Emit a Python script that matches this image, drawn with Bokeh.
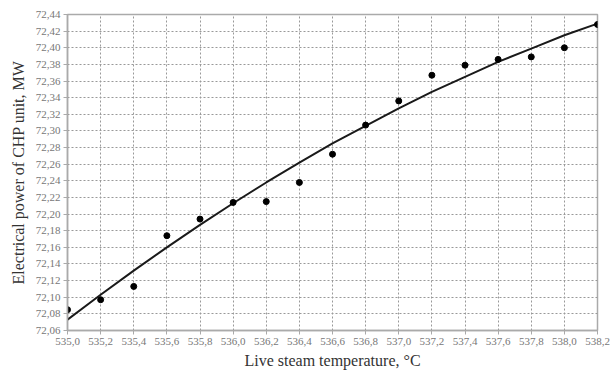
from bokeh.plotting import figure
from bokeh.models import Range1d, FixedTicker
from bokeh.embed import file_html
from bokeh.resources import INLINE

# Data
temperature = [535.0, 535.2, 535.4, 535.6, 535.8, 536.0, 536.2, 536.4, 536.6,
               536.8, 537.0, 537.2, 537.4, 537.6, 537.8, 538.0, 538.2]
power = [72.085, 72.097, 72.113, 72.174, 72.194, 72.214, 72.215, 72.238, 72.272,
         72.307, 72.336, 72.367, 72.379, 72.386, 72.389, 72.400, 72.428]
trend = [72.073, 72.103, 72.132, 72.160, 72.187, 72.213, 72.238, 72.262, 72.285,
         72.306, 72.327, 72.347, 72.365, 72.383, 72.399, 72.415, 72.429]

x_tick_labels = ["535,0", "535,2", "535,4", "535,6", "535,8", "536,0", "536,2", "536,4",
                 "536,6", "536,8", "537,0", "537,2", "537,4", "537,6", "537,8", "538,0", "538,2"]
y_tick_labels = ["72,06", "72,08", "72,10", "72,12", "72,14", "72,16", "72,18", "72,20",
                 "72,22", "72,24", "72,26", "72,28", "72,30", "72,32", "72,34", "72,36",
                 "72,38", "72,40", "72,42", "72,44"]

x_ticks = [float(s.replace(",", ".")) for s in x_tick_labels]
y_ticks = [float(s.replace(",", ".")) for s in y_tick_labels]

FONT = "Liberation Serif"

p = figure(width=610, height=379, output_backend="svg", toolbar_location=None,
           x_range=Range1d(x_ticks[0], x_ticks[-1]), y_range=Range1d(y_ticks[0], y_ticks[-1]),
           min_border_left=67, min_border_right=13, min_border_top=14, min_border_bottom=49)

p.xaxis.ticker = FixedTicker(ticks=x_ticks)
p.yaxis.ticker = FixedTicker(ticks=y_ticks)
p.xaxis.major_label_overrides = {t: s for t, s in zip(x_ticks, x_tick_labels)}
p.yaxis.major_label_overrides = {t: s for t, s in zip(y_ticks, y_tick_labels)}

for ax in (p.xaxis, p.yaxis):
    ax.major_label_text_font = FONT
    ax.major_label_text_font_size = "11px"
    ax.major_label_text_color = "#777777"
    ax.axis_label_text_font = FONT
    ax.axis_label_text_font_size = "16px"
    ax.axis_label_text_font_style = "normal"
    ax.axis_label_text_color = "#333333"
    ax.axis_line_color = "#aaaaaa"
    ax.axis_line_width = 1.5
    ax.major_tick_line_color = "#aaaaaa"
    ax.major_tick_out = 4
    ax.major_tick_in = 0
    ax.minor_tick_line_color = None

p.xaxis.axis_label = "Live steam temperature, °C"
p.yaxis.axis_label = "Electrical power of CHP unit, MW"
p.xaxis.axis_label_standoff = 4
p.yaxis.axis_label_standoff = 6
p.xaxis.major_label_standoff = 3
p.yaxis.major_label_standoff = 3

for g in (p.xgrid, p.ygrid):
    g.ticker = FixedTicker(ticks=x_ticks if g is p.xgrid[0] else y_ticks)
p.xgrid.ticker = FixedTicker(ticks=x_ticks)
p.ygrid.ticker = FixedTicker(ticks=y_ticks)
p.grid.grid_line_color = "#999999"
p.grid.grid_line_dash = "2 2"
p.grid.grid_line_width = 1

p.outline_line_color = "#aaaaaa"
p.outline_line_width = 1.5
p.background_fill_color = "white"
p.border_fill_color = "white"

p.line(temperature, trend, line_color="#1a1a1a", line_width=2)
p.scatter(temperature, power, size=6, fill_color="black", line_color="black")

open("out.html", "w").write(file_html(p, INLINE))
